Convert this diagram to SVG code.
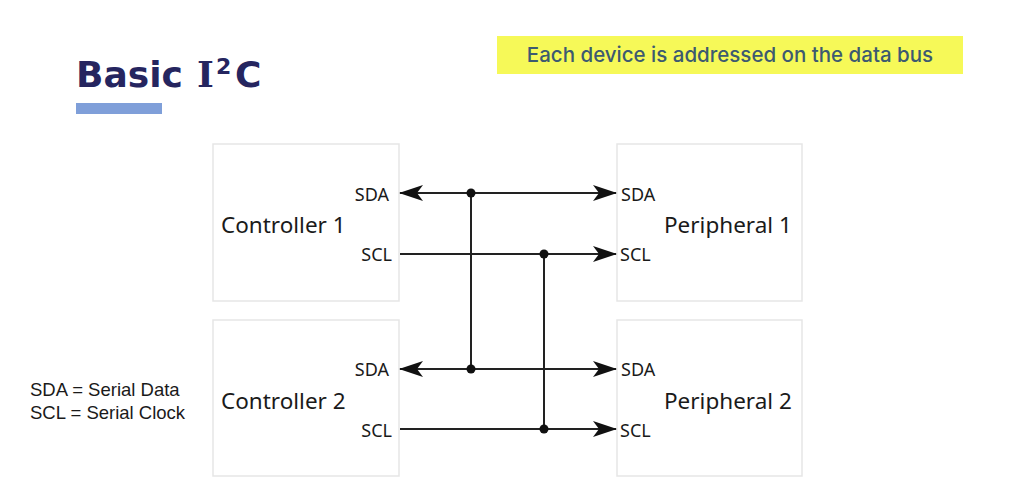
<svg xmlns="http://www.w3.org/2000/svg" width="1023" height="503" viewBox="0 0 1023 503">
  <style>
    .box { fill: #ffffff; stroke: #e6e6e6; stroke-width: 1.5; }
    .name { font-family: "Noto Sans", "Open Sans", sans-serif; font-size: 22.5px; fill: #1a1a1a; }
    .pin { font-family: "Noto Sans", "Open Sans", sans-serif; font-size: 18px; fill: #1a1a1a; }
    .wire { stroke: #222222; stroke-width: 2; fill: none; }
    .dot { fill: #111111; }
    .legend { font-family: "Liberation Sans", Arial, sans-serif; font-size: 18.5px; fill: #1a1a1a; }
  </style>
  <defs>
    <marker id="arrow" viewBox="0 0 24 16" refX="23" refY="8" markerWidth="24" markerHeight="16" markerUnits="userSpaceOnUse" orient="auto-start-reverse">
      <path d="M0,0 L24,8 L0,16 L6,8 Z" fill="#111111"/>
    </marker>
  </defs>
  <rect x="0" y="0" width="1023" height="503" fill="#ffffff"/>

  <g id="title">
    <text y="87" font-family="'DejaVu Sans', 'Open Sans', sans-serif" font-weight="700" font-size="36" fill="#25255f"><tspan x="76">Basic</tspan><tspan x="197" font-family="'DejaVu Serif', 'Liberation Serif', serif">I</tspan><tspan x="216" font-size="22" dy="-13">2</tspan><tspan x="235" dy="13">C</tspan></text>
    <rect x="76" y="103" width="86" height="11" fill="#7f9fd9"/>
  </g>

  <g id="callout">
    <rect x="497" y="36" width="466" height="38" fill="#f6f958"/>
    <text x="730" y="62" text-anchor="middle" font-family="Inter, 'Open Sans', sans-serif" font-size="20.5" font-weight="500" fill="#3d5a70">Each device is addressed on the data bus</text>
  </g>

  <g id="controller1">
    <rect class="box" x="213" y="144" width="186" height="157"/>
    <text class="name" x="221" y="233">Controller 1</text>
    <text class="pin" x="389" y="201" text-anchor="end">SDA</text>
    <text class="pin" x="392" y="261" text-anchor="end">SCL</text>
  </g>

  <g id="controller2">
    <rect class="box" x="213" y="320" width="186" height="156"/>
    <text class="name" x="221" y="409">Controller 2</text>
    <text class="pin" x="389" y="376" text-anchor="end">SDA</text>
    <text class="pin" x="392" y="437" text-anchor="end">SCL</text>
  </g>

  <g id="peripheral1">
    <rect class="box" x="617" y="144" width="185" height="157"/>
    <text class="name" x="664" y="233">Peripheral 1</text>
    <text class="pin" x="621" y="201">SDA</text>
    <text class="pin" x="620" y="261">SCL</text>
  </g>

  <g id="peripheral2">
    <rect class="box" x="617" y="320" width="185" height="156"/>
    <text class="name" x="664" y="409">Peripheral 2</text>
    <text class="pin" x="621" y="376">SDA</text>
    <text class="pin" x="620" y="437">SCL</text>
  </g>

  <g id="connectors">
    <line class="wire" x1="400" y1="193" x2="616" y2="193" marker-start="url(#arrow)" marker-end="url(#arrow)"/>
    <line class="wire" x1="400" y1="254" x2="616" y2="254" marker-end="url(#arrow)"/>
    <line class="wire" x1="400" y1="369" x2="616" y2="369" marker-start="url(#arrow)" marker-end="url(#arrow)"/>
    <line class="wire" x1="400" y1="429" x2="616" y2="429" marker-end="url(#arrow)"/>
    <line class="wire" x1="471" y1="193" x2="471" y2="369"/>
    <line class="wire" x1="544" y1="254" x2="544" y2="429"/>
    <circle class="dot" cx="471" cy="193" r="4.5"/>
    <circle class="dot" cx="471" cy="369" r="4.5"/>
    <circle class="dot" cx="544" cy="254" r="4.5"/>
    <circle class="dot" cx="544" cy="429" r="4.5"/>
  </g>

  <g id="legend">
    <text class="legend" x="30" y="396">SDA = Serial Data</text>
    <text class="legend" x="30" y="419">SCL = Serial Clock</text>
  </g>
</svg>
